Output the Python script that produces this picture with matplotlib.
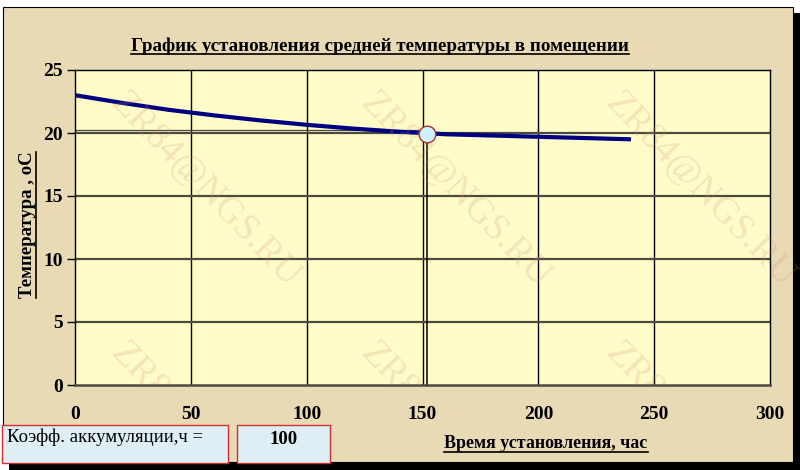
import matplotlib
matplotlib.use("Agg")
import matplotlib.pyplot as plt
from matplotlib.patches import Rectangle
from matplotlib.lines import Line2D

# ---- data ----
hours = [0, 20, 40, 60, 80, 100, 120, 140, 160, 180, 200, 220, 240]
temps = [23.0, 22.4, 21.85, 21.4, 21.0, 20.65, 20.35, 20.1, 19.9, 19.8, 19.7, 19.6, 19.5]
marker_x = 152
marker_y = 19.95
x_ticks = [0, 50, 100, 150, 200, 250, 300]
y_ticks = [0, 5, 10, 15, 20, 25]
title = "График установления средней температуры в помещении"
xlabel = "Время установления, час"
ylabel = "Температура , оС"
box_label = "Коэфф. аккумуляции,ч ="
box_value = "100"
watermark = "ZR84@NGS.RU"

W, H = 800, 470
fig = plt.figure(figsize=(8, 4.7), dpi=100, facecolor="white")
serif = ["Liberation Serif", "DejaVu Serif"]


def fx(px):
    return px / W


def fy(py):
    return 1 - py / H


# background frame + shadow
fig.patches.append(Rectangle((fx(9), fy(470)), fx(791), 8 / H, transform=fig.transFigure,
                             facecolor="black", edgecolor="none", zorder=-3))
fig.patches.append(Rectangle((fx(793), fy(470)), fx(7), 457 / H, transform=fig.transFigure,
                             facecolor="black", edgecolor="none", zorder=-3))
fig.patches.append(Rectangle((fx(3), fy(462)), fx(790), 455 / H, transform=fig.transFigure,
                             facecolor="#E9DAB6", edgecolor="black", linewidth=0.8, zorder=-2))

ax = fig.add_axes([fx(75), fy(385), fx(695), 315 / H])
ax.set_facecolor("#FFFCC8")
ax.set_xlim(0, 300)
ax.set_ylim(0, 25)
ax.set_xticks(x_ticks)
ax.set_yticks(y_ticks)
ax.set_xticklabels([str(v) for v in x_ticks], fontfamily=serif, fontweight="bold", fontsize=14)
ax.set_yticklabels([str(v) for v in y_ticks], fontfamily=serif, fontweight="bold", fontsize=14)
ax.tick_params(axis="x", length=0, pad=15)
ax.tick_params(axis="y", length=6, width=1, color="black", pad=3)
for v in x_ticks[1:-1]:
    ax.axvline(v, color="black", linewidth=1.0, zorder=1)
for v in y_ticks[1:-1]:
    ax.axhline(v, color="#4a4a40", linewidth=1.6, zorder=1)
for s in ["top", "right", "left"]:
    ax.spines[s].set_color("black")
    ax.spines[s].set_linewidth(1.0)
ax.spines["bottom"].set_color("#4a4a40")
ax.spines["bottom"].set_linewidth(1.8)

# marker guide lines
ax.plot([marker_x, marker_x], [0, marker_y], color="black", linewidth=1.1, zorder=2, solid_capstyle="butt")
ax.plot([0, marker_x], [marker_y + 0.25, marker_y + 0.25], color="#4a4a40", linewidth=0.9, zorder=2)

ax.plot(hours, temps, color="#000080", linewidth=3.0, zorder=3, solid_capstyle="butt")
ax.plot([marker_x], [marker_y], marker="o", markersize=12, markerfacecolor="#CCF2FF",
        markeredgecolor="#B03030", markeredgewidth=1.0, zorder=4)

# texts
t_title = fig.text(fx(380), fy(46), title, ha="center", va="center", fontfamily=serif,
                   fontweight="bold", fontsize=13.7)
t_x = fig.text(fx(546), fy(444), xlabel, ha="center", va="center", fontfamily=serif,
               fontweight="bold", fontsize=13)
t_y = fig.text(fx(28), fy(225), ylabel, ha="center", va="center", rotation=90,
               fontfamily=serif, fontweight="bold", fontsize=13.5)

# boxes
fig.patches.append(Rectangle((fx(2), fy(463)), fx(226), 38 / H, transform=fig.transFigure,
                             facecolor="#DDEEF4", edgecolor="#D03030", linewidth=1.0, zorder=2))
fig.patches.append(Rectangle((fx(237), fy(463)), fx(93), 38 / H, transform=fig.transFigure,
                             facecolor="#DDEEF4", edgecolor="#D03030", linewidth=1.0, zorder=2))
fig.text(fx(7), fy(437), box_label, ha="left", va="center", fontfamily=serif, fontsize=13.5, zorder=3)
fig.text(fx(284), fy(439), box_value, ha="center", va="center", fontfamily=serif,
         fontweight="bold", fontsize=13.5, zorder=3)

# watermarks (top row over whole chart, bottom row only within the plot area)
for cx in [205, 455, 700]:
    fig.text(fx(cx), fy(190), watermark, ha="center", va="center", rotation=-46,
             rotation_mode="anchor", fontfamily=serif, fontsize=27,
             color="#D09078", alpha=0.22, zorder=5)
    t = ax.text(0, 0, watermark, ha="center", va="center", rotation=-46,
                rotation_mode="anchor", fontfamily=serif, fontsize=27,
                color="#D09078", alpha=0.22, zorder=5, clip_on=True,
                transform=fig.transFigure)
    t.set_position((fx(cx), fy(440)))
    t.set_clip_path(ax.patch)

# underlines
fig.canvas.draw()
r = fig.canvas.get_renderer()
for t in [t_title, t_x]:
    bb = t.get_window_extent(r)
    y = bb.y0 + 1
    fig.add_artist(Line2D([bb.x0 / W, bb.x1 / W], [y / H, y / H], transform=fig.transFigure,
                          color="black", linewidth=1.2))
bb = t_y.get_window_extent(r)
xu = bb.x1 - 1
fig.add_artist(Line2D([xu / W, xu / W], [bb.y0 / H, bb.y1 / H], transform=fig.transFigure,
                      color="black", linewidth=1.2))

fig.savefig("out.png", dpi=100, facecolor="white")
